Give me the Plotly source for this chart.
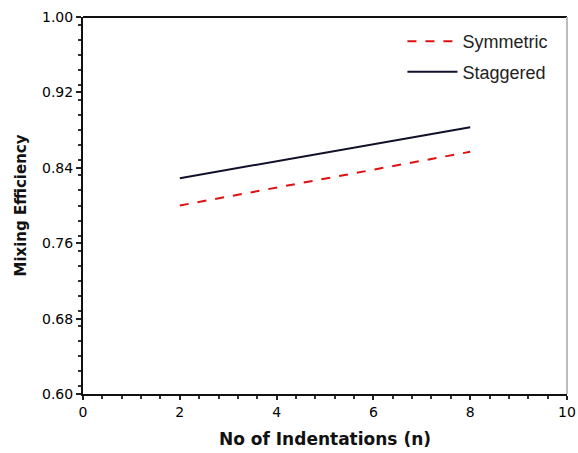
import plotly.graph_objects as go

n_indent = [2, 4, 6, 8]
symmetric = [0.800, 0.819, 0.838, 0.857]
staggered = [0.829, 0.847, 0.865, 0.883]

x_ticks = [0, 2, 4, 6, 8, 10]
y_ticks = [0.60, 0.68, 0.76, 0.84, 0.92, 1.00]
y_ticklabels = ["0.60", "0.68", "0.76", "0.84", "0.92", "1.00"]

tick_family = "DejaVu Sans, Verdana, sans-serif"
legend_family = "Liberation Sans, Arial, sans-serif"

fig = go.Figure()
fig.add_trace(go.Scatter(x=n_indent, y=symmetric, mode="lines", name="Symmetric",
                         legendgroup="a",
                         line=dict(color="#e01010", width=2, dash="dash")))
fig.add_trace(go.Scatter(x=n_indent, y=staggered, mode="lines", name="Staggered",
                         legendgroup="b",
                         line=dict(color="#10102a", width=2)))

fig.update_layout(
    width=578, height=453,
    margin=dict(l=83, r=11, t=17, b=59),
    plot_bgcolor="white", paper_bgcolor="white",
    font=dict(family=tick_family, size=14, color="#000"),
    showlegend=True,
    legend=dict(x=0.66, y=0.984, xanchor="left", yanchor="top",
                bgcolor="rgba(0,0,0,0)",
                font=dict(family=legend_family, size=18, color="#222"),
                tracegroupgap=4, itemwidth=50),
    xaxis=dict(range=[0, 10], tickvals=x_ticks, ticks="outside", ticklen=4,
               tickwidth=1.5, tickcolor="#222", showline=True, linecolor="#111",
               linewidth=2, showgrid=False, zeroline=False, automargin=False,
               ticklabeloverflow="allow",
               tickfont=dict(size=14, color="#000"),
               minor=dict(dtick=0.4, ticks="outside", ticklen=3, tickcolor="#333", tickwidth=1.5),
               title=dict(text="<b>No of Indentations (n)</b>",
                          font=dict(family=tick_family, size=17, color="#111"),
                          standoff=14)),
    yaxis=dict(range=[0.60, 1.00], tickvals=y_ticks, ticktext=y_ticklabels,
               ticks="outside", ticklen=5, tickwidth=1.5, tickcolor="#222",
               showline=True, linecolor="#111", linewidth=2, showgrid=False,
               zeroline=False, automargin=False,
               tickfont=dict(size=14, color="#000"),
               minor=dict(dtick=0.016, ticks="outside", ticklen=3, tickcolor="#333", tickwidth=1.5),
               title=dict(text="<b>Mixing Efficiency</b>",
                          font=dict(family=tick_family, size=15, color="#111"),
                          standoff=12)),
    shapes=[
        dict(type="line", xref="paper", yref="paper", x0=0, x1=1, y0=1, y1=1,
             line=dict(color="#111", width=2)),
        dict(type="line", xref="paper", yref="paper", x0=1, x1=1, y0=0, y1=1,
             line=dict(color="#bbbbbb", width=2)),
    ],
)

fig.write_html("out.html",
               config={"displayModeBar": False},
               post_script="document.body.style.margin='0';document.body.style.padding='0';")
